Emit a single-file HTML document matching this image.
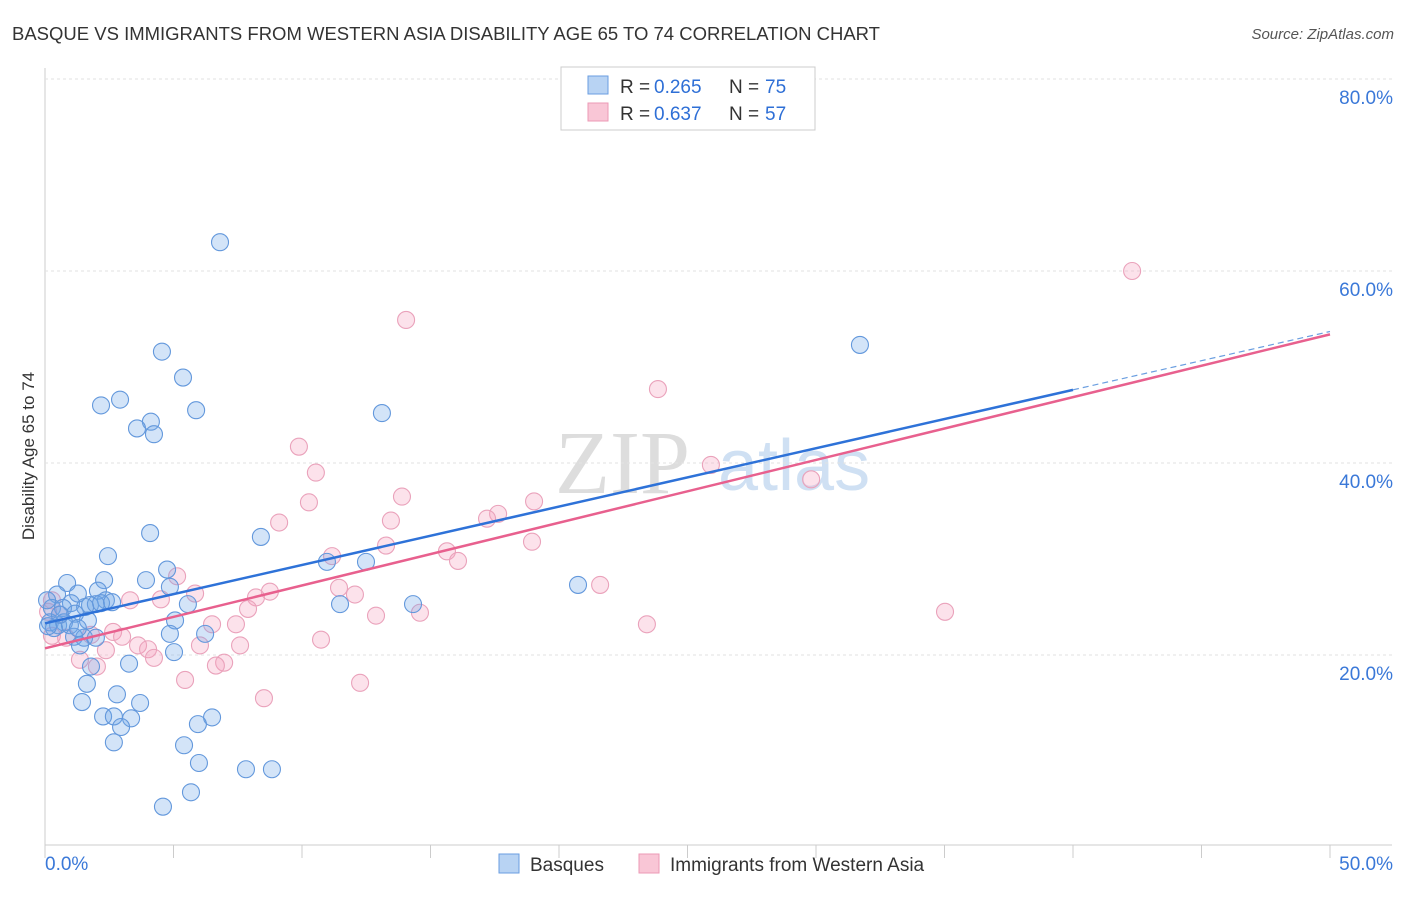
<!DOCTYPE html>
<html><head><meta charset="utf-8"><style>
body{margin:0;background:#fff;font-family:"Liberation Sans",sans-serif}
</style></head><body>
<svg id="c" width="1406" height="892" xmlns="http://www.w3.org/2000/svg" style="font-family:'Liberation Sans',sans-serif">
<text x="12" y="40" font-size="18" fill="#333" textLength="868" lengthAdjust="spacingAndGlyphs">BASQUE VS IMMIGRANTS FROM WESTERN ASIA DISABILITY AGE 65 TO 74 CORRELATION CHART</text>
<text x="1394" y="39" font-size="15" fill="#555" font-style="italic" text-anchor="end">Source: ZipAtlas.com</text>
<text x="34" y="456" font-size="17" fill="#333" text-anchor="middle" transform="rotate(-90 34 456)">Disability Age 65 to 74</text>
<text x="555" y="493" font-size="90" fill="#ddd" font-family="Liberation Serif,serif">ZIP</text>
<text x="718" y="490" font-size="72" fill="#cfe0f3">atlas</text>
<g id="grid"></g><g id="marks"></g>
<g>
<rect x="561" y="67" width="254" height="63" fill="#fff" stroke="#ccc"/>
<rect x="588" y="76" width="20" height="18" fill="#b8d3f3" stroke="#6a9ee0"/>
<rect x="588" y="103" width="20" height="18" fill="#f9c6d6" stroke="#ec9ab6"/>
<text x="620" y="93" font-size="19" fill="#333">R = </text>
<text x="654" y="93" font-size="19" fill="#2e6fd6">0.265</text>
<text x="729" y="93" font-size="19" fill="#333">N = </text>
<text x="765" y="93" font-size="19" fill="#2e6fd6">75</text>
<text x="620" y="120" font-size="19" fill="#333">R = </text>
<text x="654" y="120" font-size="19" fill="#2e6fd6">0.637</text>
<text x="729" y="120" font-size="19" fill="#333">N = </text>
<text x="765" y="120" font-size="19" fill="#2e6fd6">57</text>
</g>
<g>
<rect x="499" y="854" width="20" height="19" fill="#b8d3f3" stroke="#6a9ee0"/>
<text x="530" y="871" font-size="19" fill="#333">Basques</text>
<rect x="639" y="854" width="20" height="19" fill="#f9c6d6" stroke="#ec9ab6"/>
<text x="670" y="871" font-size="19" fill="#333">Immigrants from Western Asia</text>
</g>
</svg>
<script>
const yTicks=[20,40,60,80];
const xTickLabels=["0.0%","50.0%"];
const blueX=[6.81,4.55,5.37,2.18,2.92,5.88,4.12,3.58,4.24,13.11,31.71,4.09,8.40,2.45,10.97,12.49,4.75,0.86,2.30,3.93,4.86,20.74,0.47,1.28,2.06,2.37,1.01,1.75,1.98,2.18,5.56,11.48,14.32,0.27,0.70,1.56,1.17,5.06,0.19,0.51,0.74,0.35,0.97,0.12,1.13,1.52,1.98,4.86,6.23,1.36,5.02,3.27,1.79,1.63,2.80,1.44,3.70,2.26,2.68,3.35,6.50,2.96,5.95,2.68,5.41,5.99,7.82,8.83,5.68,4.59,0.58,1.67,0.08,2.61,1.28];
const blueY=[63.0,51.6,48.9,46.0,46.6,45.5,44.3,43.6,43.0,45.2,52.3,32.7,32.3,30.3,29.7,29.7,28.9,27.5,27.8,27.8,27.1,27.3,26.3,26.4,26.7,25.7,25.4,25.2,25.3,25.4,25.3,25.3,25.3,24.9,24.9,25.0,24.3,23.6,23.4,23.1,23.4,22.8,23.1,23.0,21.9,21.8,21.8,22.2,22.2,21.0,20.3,19.1,18.8,17.0,15.9,15.1,15.0,13.6,13.6,13.4,13.5,12.5,12.8,10.9,10.6,8.75,8.1,8.1,5.7,4.2,24.2,23.6,25.7,25.5,22.8];
const pinkX=[42.3,14.05,23.85,9.88,10.54,25.91,29.81,13.89,10.27,19.03,9.11,13.46,17.63,17.2,18.95,13.27,15.64,16.07,11.17,21.6,5.14,5.84,8.75,11.44,8.21,12.06,3.31,4.51,7.90,14.59,12.88,35.02,7.43,6.50,23.42,2.65,1.79,3.0,0.82,0.27,10.74,3.62,4.01,2.37,6.03,7.59,4.24,1.36,2.02,6.97,6.65,5.45,12.26,8.52,0.27,0.58,0.12];
const pinkY=[60.0,54.9,47.7,41.7,39.0,39.8,38.3,36.5,35.9,36.0,33.8,34.0,34.7,34.2,31.8,31.4,30.8,29.8,30.3,27.3,28.2,26.4,26.6,27.0,26.0,26.3,25.7,25.8,24.8,24.4,24.1,24.5,23.2,23.2,23.2,22.4,22.1,21.9,21.8,22.0,21.6,21.0,20.6,20.5,21.0,21.0,19.7,19.5,18.8,19.2,18.9,17.4,17.1,15.5,25.7,24.2,24.5];
const blueLine=[23.3,0.608];
const pinkLine=[20.7,0.654];
const NS="http://www.w3.org/2000/svg";
const X=v=>45+v*25.7, Y=v=>847-v*9.6;
function mk(t,a,p){const e=document.createElementNS(NS,t);for(const k in a)e.setAttribute(k,a[k]);p.appendChild(e);return e;}
const g=document.getElementById('grid'), m=document.getElementById('marks');
let ax=mk('line',{x1:45,y1:68,x2:45,y2:845,stroke:'#ccc'},g);


let bx=mk('line',{x1:45,y1:845,x2:1392,y2:845,stroke:'#ccc'},g);


for(let i=0;i<=10;i++){let t=mk('line',{x1:X(i*5),y1:845,x2:X(i*5),y2:858,stroke:'#ccc'},g);

}
yTicks.forEach(v=>{let l=mk('line',{x1:45,y1:Y(v),x2:1392,y2:Y(v),stroke:'#e2e2e2','stroke-dasharray':'3,3'},g);


let t=mk('text',{x:1393,y:Y(v)+25,'font-size':19,fill:'#3a78d8','text-anchor':'end'},g);t.textContent=v.toFixed(1)+'%';

});
xTickLabels.forEach((s,i)=>{let t=mk('text',{x:i?1393:45,y:870,'font-size':19,fill:'#3a78d8','text-anchor':i?'end':'start'},g);t.textContent=s;

});
function pts(xs,ys,f,s,n){xs.forEach((x,i)=>{let c=mk('circle',{cx:X(x),cy:Y(ys[i]),r:8.5,fill:f,stroke:s,'stroke-width':1.1},m);

});}
pts(pinkX,pinkY,'rgba(244,160,188,0.3)','#eaa2bb','immigrants-point');
pts(blueX,blueY,'rgba(110,165,232,0.3)','#6398dc','basques-point');
let bl=mk('line',{x1:X(0),y1:Y(blueLine[0]),x2:X(40),y2:Y(blueLine[0]+40*blueLine[1]),stroke:'#2e72d8','stroke-width':2.5},m);


let bd=mk('line',{x1:X(40),y1:Y(blueLine[0]+40*blueLine[1]),x2:X(50),y2:Y(blueLine[0]+50*blueLine[1]),stroke:'#6a9ee0','stroke-width':1.2,'stroke-dasharray':'6,4'},m);


let pl=mk('line',{x1:X(0),y1:Y(pinkLine[0]),x2:X(50),y2:Y(pinkLine[0]+50*pinkLine[1]),stroke:'#e8608e','stroke-width':2.5},m);


</script>
</body></html>
